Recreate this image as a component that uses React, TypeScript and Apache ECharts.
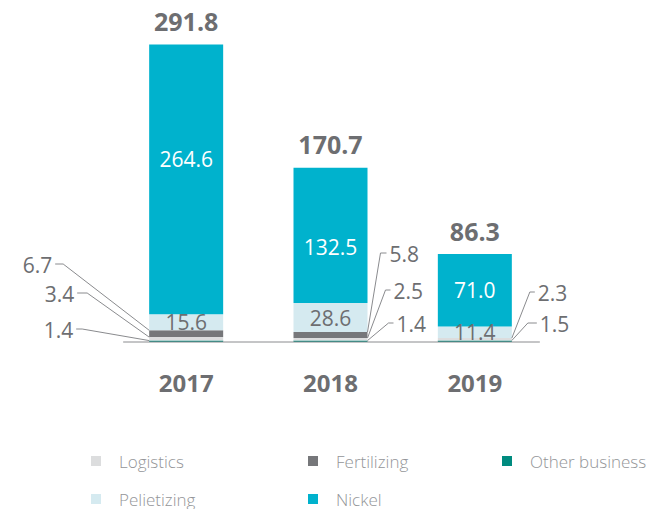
import React, { useEffect, useRef } from 'react';
import * as echarts from 'echarts';

const years = ['2017', '2018', '2019'];
const otherBusiness = [1.4, 1.4, 1.5];
const logistics = [3.4, 2.5, 2.3];
const fertilizing = [6.7, 5.8, 0];
const pelletizing = [15.6, 28.6, 11.4];
const nickel = [264.6, 132.5, 71.0];
const totals = [291.8, 170.7, 86.3];

// stacking order bottom -> top
const stackData = [otherBusiness, logistics, fertilizing, pelletizing, nickel];

const C_OTHER = '#008b7f';
const C_LOG = '#dcddde';
const C_FERT = '#76777a';
const C_PELL = '#d5eaf0';
const C_NICKEL = '#00b2cd';
const LABEL = '#6d6e71';
const LEGEND_TEXT = '#939598';
const LINE = '#8a8b8e';
const FONT = "'Open Sans', sans-serif";
const BAR_W = 74;

// vertical shift of the nickel value labels (layout only)
const nickelLabelShift = [-20, 12, 0];

// callout layout (s = stack index, c = category index, side, line y offset from baseline, elbow distance, tick length)
const callouts = [
  { s: 2, c: 0, side: -1, dy: -78, elbow: 86, tick: 8 },
  { s: 1, c: 0, side: -1, dy: -49, elbow: 62, tick: 10 },
  { s: 0, c: 0, side: -1, dy: -13, elbow: 67, tick: 6 },
  { s: 2, c: 1, side: 1, dy: -89, elbow: 13, tick: 6 },
  { s: 1, c: 1, side: 1, dy: -52, elbow: 18, tick: 5 },
  { s: 0, c: 1, side: 1, dy: -19, elbow: 21, tick: 5 },
  { s: 1, c: 2, side: 1, dy: -50, elbow: 18, tick: 5 },
  { s: 0, c: 2, side: 1, dy: -19, elbow: 16, tick: 9 },
];

// legend placement
const legendSlots = [
  { name: 'Logistics', left: 91, top: 451 },
  { name: 'Fertilizing', left: 308, top: 451 },
  { name: 'Other business', left: 502, top: 451 },
  { name: 'Pelietizing', left: 91, top: 489 },
  { name: 'Nickel', left: 308, top: 489 },
];

export default function App() {
  const ref = useRef<HTMLDivElement>(null);

  useEffect(() => {
    document.body.style.margin = '0';
    const chart = echarts.init(ref.current!, undefined, { renderer: 'svg' });

    const legendCommon = {
      orient: 'horizontal',
      icon: 'rect',
      itemWidth: 10,
      itemHeight: 10,
      padding: 0,
      selectedMode: false,
      textStyle: {
        fontFamily: FONT,
        fontSize: 17,
        fontWeight: 300,
        color: LEGEND_TEXT,
        lineHeight: 20,
        padding: [0, 0, 0, 13],
      },
    };

    const bar = (name: string, data: any[], color: string, label?: any) => ({
      type: 'bar',
      name,
      stack: 'total',
      data,
      barWidth: BAR_W,
      itemStyle: { color },
      label: label || { show: false },
    });

    chart.setOption({
      animation: false,
      grid: { left: 114, right: 99, top: 36, bottom: 167 },
      xAxis: {
        type: 'category',
        data: years,
        axisLine: { show: false },
        axisTick: { show: false },
        axisLabel: {
          fontFamily: FONT,
          fontSize: 24,
          fontWeight: 'bold',
          color: LABEL,
          margin: 28,
        },
      },
      yAxis: { type: 'value', min: 0, max: 300, show: false },
      legend: legendSlots.map((l) => ({
        ...legendCommon,
        left: l.left,
        top: l.top,
        data: [l.name],
      })),
      series: [
        bar('Other business', otherBusiness, C_OTHER),
        bar('Logistics', logistics, C_LOG),
        bar('Fertilizing', fertilizing, C_FERT),
        bar('Pelietizing', pelletizing, C_PELL, {
          show: true,
          position: 'inside',
          fontFamily: FONT,
          fontSize: 21,
          color: LABEL,
          formatter: (p: any) => Number(p.value).toFixed(1),
        }),
        bar(
          'Nickel',
          nickel.map((v, i) => ({ value: v, label: { offset: [0, nickelLabelShift[i]] } })),
          C_NICKEL,
          {
            show: true,
            position: 'inside',
            fontFamily: FONT,
            fontSize: 21,
            color: '#ffffff',
            formatter: (p: any) => Number(p.value).toFixed(1),
          }
        ),
        {
          type: 'bar',
          name: 'Total',
          stack: 'total',
          data: totals.map(() => 0),
          barWidth: BAR_W,
          silent: true,
          itemStyle: { color: 'rgba(0,0,0,0)' },
          label: {
            show: true,
            position: 'top',
            distance: 11,
            fontFamily: FONT,
            fontSize: 25,
            fontWeight: 'bold',
            color: LABEL,
            formatter: (p: any) => totals[p.dataIndex].toFixed(1),
          },
        },
      ],
    });

    const px = (c: number, v: number) =>
      chart.convertToPixel({ gridIndex: 0 }, [years[c], v]) as number[];

    const base0 = px(0, 0);
    const base2 = px(2, 0);
    const baseY = base0[1];
    const graphics: any[] = [
      {
        type: 'line',
        z: 10,
        shape: { x1: base0[0] - 63, y1: baseY, x2: base2[0] + 65, y2: baseY },
        style: { stroke: LINE, lineWidth: 1 },
      },
    ];

    callouts.forEach((co) => {
      let cum = 0;
      for (let i = 0; i <= co.s; i++) cum += stackData[i][co.c];
      const p = px(co.c, cum);
      const edge = p[0] + (co.side * BAR_W) / 2;
      const ly = baseY + co.dy;
      const ex = edge + co.side * co.elbow;
      const tx = edge + co.side * (co.elbow + co.tick);
      graphics.push({
        type: 'polyline',
        z: 10,
        shape: { points: [[edge, p[1]], [ex, ly], [tx, ly]] },
        style: { stroke: LINE, lineWidth: 1, fill: 'none' },
      });
      graphics.push({
        type: 'text',
        z: 10,
        x: tx + co.side * 3,
        y: ly + 1,
        style: {
          text: stackData[co.s][co.c].toFixed(1),
          fontFamily: FONT,
          fontSize: 21,
          fill: LABEL,
          align: co.side < 0 ? 'right' : 'left',
          verticalAlign: 'middle',
          textAlign: co.side < 0 ? 'right' : 'left',
          textVerticalAlign: 'middle',
        },
      });
    });

    chart.setOption({ graphic: graphics });

    return () => chart.dispose();
  }, []);

  return (
    <div
      ref={ref}
      style={{ position: 'absolute', left: 0, top: 0, width: 646, height: 509 }}
    />
  );
}
